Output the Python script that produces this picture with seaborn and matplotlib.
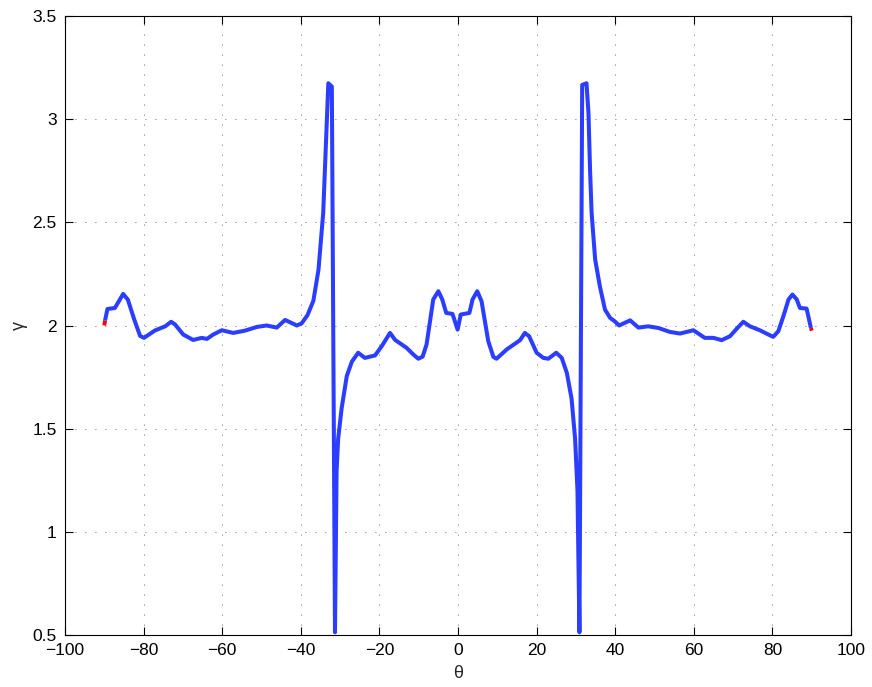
import numpy as np
import pandas as pd
import matplotlib
matplotlib.use("Agg")
import matplotlib.pyplot as plt
import seaborn as sns

# ---- data ----
theta = [-90.0, -89.8, -89.2, -87.3, -85.2, -84.0, -82.4, -80.9, -79.9, -77.1,
         -74.5, -73.0, -72.0, -69.9, -67.4, -65.2, -63.9, -62.3, -60.1, -57.2,
         -54.2, -51.2, -48.7, -46.1, -44.0, -41.0, -39.8, -38.3, -36.8, -35.5,
         -34.3, -33.0, -32.1, -31.3, -30.9, -30.5, -29.6, -28.3, -27.0, -25.4,
         -23.7, -21.1, -19.4, -17.3, -16.0, -13.1, -11.4, -10.1, -9.0, -8.0,
         -6.3, -5.0, -4.0, -3.0, -1.4, -0.1, 0.7, 2.9, 3.7, 4.9,
         6.0, 7.7, 9.0, 9.8, 12.4, 15.8, 17.0, 18.1, 20.0, 21.7,
         23.0, 25.0, 26.4, 27.7, 28.9, 29.8, 30.4, 30.9, 31.6, 32.7,
         33.2, 33.6, 34.0, 34.9, 36.1, 37.4, 38.7, 39.9, 41.0, 43.8,
         45.9, 48.4, 51.0, 53.9, 56.5, 59.9, 62.8, 65.0, 67.1, 69.2,
         70.9, 72.6, 74.3, 76.8, 79.0, 80.2, 81.5, 82.8, 84.1, 85.1,
         86.2, 87.0, 88.7, 89.8, 90.0]
gamma = [2.000, 2.025, 2.080, 2.085, 2.153, 2.125, 2.030, 1.950, 1.940, 1.976,
         1.996, 2.018, 2.005, 1.956, 1.930, 1.940, 1.935, 1.956, 1.977, 1.964,
         1.975, 1.993, 2.000, 1.990, 2.027, 2.000, 2.010, 2.050, 2.120, 2.270,
         2.545, 3.174, 3.158, 0.513, 1.290, 1.450, 1.600, 1.755, 1.825, 1.868,
         1.843, 1.855, 1.900, 1.964, 1.930, 1.892, 1.860, 1.839, 1.849, 1.908,
         2.126, 2.166, 2.126, 2.061, 2.056, 1.980, 2.053, 2.061, 2.126, 2.166,
         2.117, 1.924, 1.848, 1.839, 1.884, 1.929, 1.964, 1.948, 1.868, 1.843,
         1.839, 1.868, 1.843, 1.770, 1.645, 1.450, 1.200, 0.513, 3.166, 3.174,
         3.030, 2.754, 2.545, 2.320, 2.190, 2.077, 2.037, 2.020, 2.000, 2.025,
         1.990, 1.996, 1.988, 1.969, 1.961, 1.977, 1.940, 1.940, 1.929, 1.948,
         1.984, 2.018, 1.996, 1.977, 1.956, 1.945, 1.972, 2.045, 2.126, 2.150,
         2.126, 2.085, 2.082, 1.988, 1.975]

x_ticks = [-100, -80, -60, -40, -20, 0, 20, 40, 60, 80, 100]
y_ticks = [0.5, 1, 1.5, 2, 2.5, 3, 3.5]
x_label = "θ"
y_label = "γ"

df_all = pd.DataFrame({"theta": theta, "gamma": gamma})
df_blue = df_all.iloc[1:-1].reset_index(drop=True)
df_red_start = df_all.iloc[:2].reset_index(drop=True)
df_red_end = df_all.iloc[-2:].reset_index(drop=True)

sns.set_style("white")
plt.rcParams["font.family"] = ["Liberation Sans", "DejaVu Sans"]
plt.rcParams["axes.unicode_minus"] = True

fig = plt.figure(figsize=(8.72, 6.87), dpi=100)
ax = fig.add_axes([65 / 872, 1 - 635 / 687, (851 - 65) / 872, (635 - 16) / 687])

for d in (df_red_start, df_red_end):
    sns.lineplot(data=d, x="theta", y="gamma", sort=False, estimator=None,
                 color="#ff0000", linewidth=2.8, ax=ax, zorder=3)
sns.lineplot(data=df_blue, x="theta", y="gamma", sort=False, estimator=None,
             color="#2b3dff", linewidth=2.9, ax=ax, zorder=4)
for ln in ax.lines:
    ln.set_solid_capstyle("butt")
    ln.set_solid_joinstyle("round")

ax.set_xlim(-100, 100)
ax.set_ylim(0.5, 3.5)
ax.set_xticks(x_ticks)
ax.set_yticks(y_ticks)
ax.set_xticklabels([f"{t:g}".replace("-", "\u2212") for t in x_ticks])
ax.set_yticklabels([f"{t:g}" for t in y_ticks])

ax.grid(True, color="#333333", linestyle=(0, (1, 11)), linewidth=0.6)
ax.set_axisbelow(True)

for s in ax.spines.values():
    s.set_visible(True)
    s.set_color("black")
    s.set_linewidth(0.8)

ax.tick_params(direction="in", length=6, width=0.8, top=True, right=True,
               bottom=True, left=True, labelsize=12.5, colors="black",
               pad=6)

ax.set_xlabel(x_label, fontsize=13, labelpad=5)
ax.set_ylabel(y_label, fontsize=13, labelpad=3)

fig.savefig("out.png", dpi=100, facecolor="white")
